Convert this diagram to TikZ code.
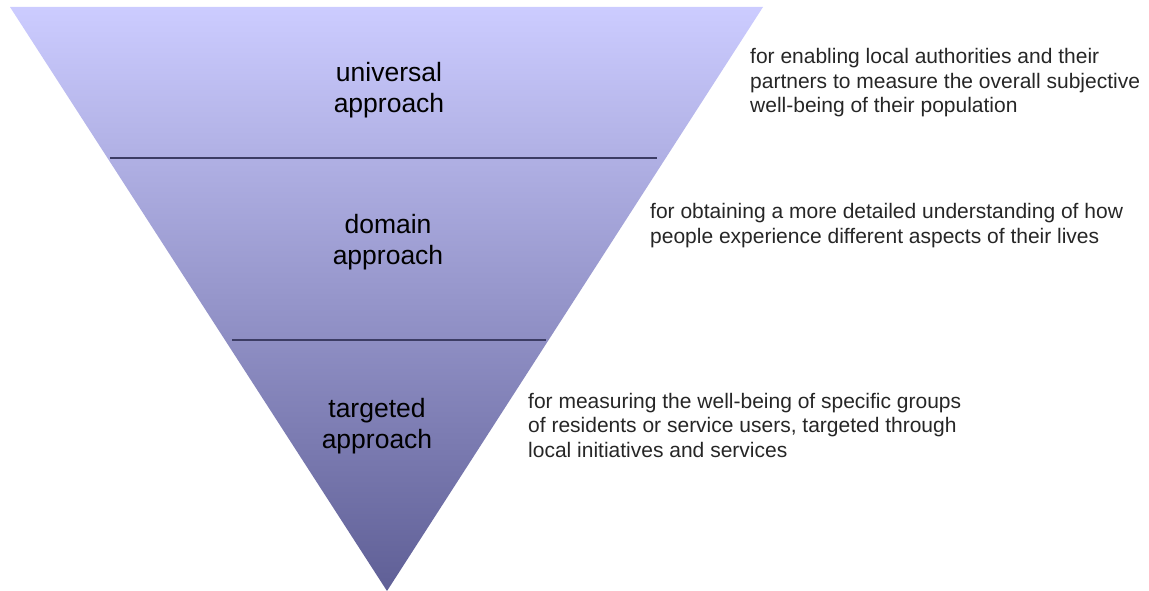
\documentclass[tikz,border=0pt]{standalone}
\usepackage{fontspec}
\setmainfont{Liberation Sans}
\usetikzlibrary{positioning}
\definecolor{topviolet}{RGB}{204,204,255}
\definecolor{midviolet}{RGB}{170,170,222}
\definecolor{lowviolet}{RGB}{95,95,150}
\definecolor{rulecol}{RGB}{60,60,100}

\begin{document}
\begin{tikzpicture}[x=1pt, y=-1pt,
  level/.style={font=\fontsize{26.5}{31}\selectfont, align=center, anchor=base, inner sep=0pt},
  note/.style={font=\fontsize{21}{24.5}\selectfont, align=left, anchor=base west, inner sep=0pt, text=black!85},
  divider/.style={draw=rulecol, line width=1.3pt}]

  \useasboundingbox (0,0) rectangle (1149,591);

  % the funnel
  \coordinate (tl) at (10,7);
  \coordinate (tr) at (763,7);
  \coordinate (tip) at (387,591);
  \shade[top color=topviolet, middle color=midviolet, bottom color=lowviolet]
    (tl) -- (tr) -- (tip) -- cycle;

  % dividers
  \coordinate (d1l) at (110,158);
  \coordinate (d1r) at (657,158);
  \coordinate (d2l) at (232,340);
  \coordinate (d2r) at (546,340);
  \draw[divider] (d1l) -- (d1r);
  \draw[divider] (d2l) -- (d2r);

  % levels (anchored on the last line)
  \node[level] (universal) at (389,113) {universal\\approach};
  \node[level] (domain) at (388,264) {domain\\approach};
  \node[level] (targeted) at (377,448) {targeted\\approach};

  % notes
  \node[note] (universalnote) at (750,113) {for enabling local authorities and their\\partners to measure the overall subjective\\well-being of their population};
  \node[note] (domainnote) at (650,243) {for obtaining a more detailed understanding of how\\people experience different aspects of their lives};
  \node[note] (targetednote) at (528,457) {for measuring the well-being of specific groups\\of residents or service users, targeted through\\local initiatives and services};

\end{tikzpicture}
\end{document}
